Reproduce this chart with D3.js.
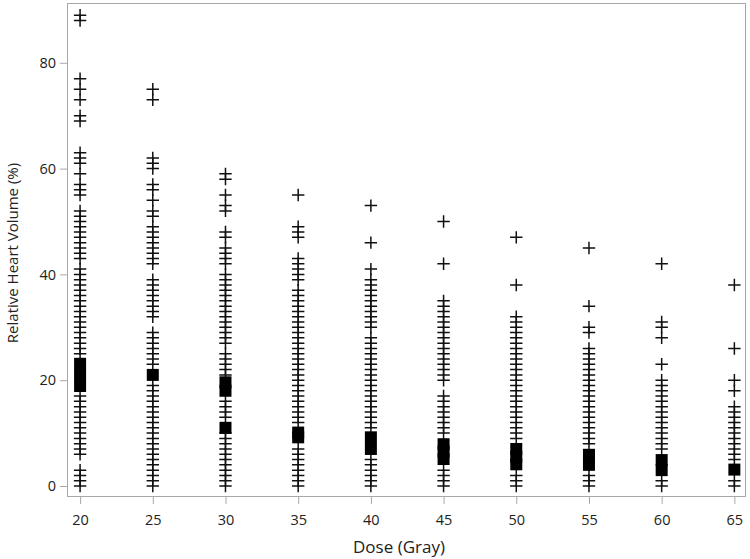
<!DOCTYPE html>
<html>
<head>
<meta charset="utf-8">
<script src="https://cdn.jsdelivr.net/npm/d3@7"></script>
<style>
  body { margin: 0; background: #fff; }
  svg text { font-family: "Open Sans", sans-serif; fill: #222; }
</style>
</head>
<body>
<div id="chart-area"></div>
<script>
(function () {
  // Dose levels (Gray)
  const doses = [20, 25, 30, 35, 40, 45, 50, 55, 60, 65];

  // Relative heart volume (%) per patient
  const vol20 = [89, 88, 77, 75, 73, 70, 69, 63, 62, 61, 59, 57, 56, 55, 52, 51, 50, 49, 48, 47, 46, 45, 44, 43, 41, 40, 39, 38, 37, 36, 35, 34, 33, 32, 31, 30, 29, 28, 27, 26, 25, 17, 16, 15, 14, 13, 12, 11, 10, 9, 8, 7, 6, 3, 2, 1, 0];
  const vol25 = [75, 73, 62, 61, 60, 57, 56, 54, 52, 51, 49, 48, 47, 46, 45, 44, 43, 42, 39, 38, 37, 36, 35, 34, 33, 32, 29, 28, 27, 26, 25, 24, 23, 19, 18, 17, 16, 15, 14, 13, 12, 11, 10, 9, 8, 7, 6, 5, 4, 3, 2, 1, 0];
  const vol30 = [59, 58, 55, 53, 52, 48, 47, 45, 44, 43, 42, 40, 39, 38, 37, 36, 35, 34, 33, 32, 31, 30, 29, 28, 27, 25, 24, 23, 22, 21, 16, 15, 14, 13, 10, 9, 8, 7, 6, 5, 4, 3, 2, 1, 0];
  const vol35 = [55, 49, 48, 47, 43, 42, 41, 40, 39, 37, 36, 35, 34, 33, 32, 31, 30, 29, 28, 27, 26, 25, 24, 23, 22, 21, 20, 19, 18, 17, 16, 15, 14, 13, 12, 7, 6, 5, 4, 3, 2, 1, 0];
  const vol40 = [53, 46, 41, 39, 38, 37, 36, 35, 34, 33, 32, 31, 30, 28, 27, 26, 25, 24, 23, 22, 21, 20, 19, 18, 17, 16, 15, 14, 13, 12, 11, 5, 4, 3, 2, 1, 0];
  const vol45 = [50, 42, 35, 34, 33, 32, 31, 30, 29, 28, 27, 26, 25, 24, 23, 22, 21, 20, 17, 16, 15, 14, 13, 12, 11, 10, 3, 2, 1, 0];
  const vol50 = [47, 38, 32, 31, 30, 29, 28, 27, 26, 25, 24, 23, 22, 21, 20, 19, 18, 17, 16, 15, 14, 13, 12, 11, 10, 9, 2, 1, 0];
  const vol55 = [45, 34, 30, 29, 26, 25, 24, 23, 22, 21, 20, 19, 18, 17, 16, 15, 14, 13, 12, 11, 10, 9, 8, 2, 1, 0];
  const vol60 = [42, 31, 30, 28, 23, 20, 19, 18, 17, 16, 15, 14, 13, 12, 11, 10, 9, 8, 7, 1, 0];
  const vol65 = [38, 26, 20, 18, 15, 14, 13, 12, 11, 10, 9, 8, 7, 6, 5, 1, 0];
  const volumes = [vol20, vol25, vol30, vol35, vol40, vol45, vol50, vol55, vol60, vol65];

  // Filled square markers (summary values) per dose
  const squares = [
    [23.1, 21, 18.9],
    [21],
    [19.6, 18, 11],
    [10.1, 9.2],
    [9.2, 7],
    [7.9, 6.5, 5.1],
    [7, 5.5, 4.1],
    [5.9, 4],
    [4.9, 3],
    [3.1]
  ];

  const yTicks = [0, 20, 40, 60, 80];

  // Layout
  const W = 750, H = 559;
  const frame = { left: 67, right: 746, top: 3, bottom: 497 };

  const svg = d3.select("#chart-area")
    .append("svg")
    .attr("width", W)
    .attr("height", H);

  const x = d3.scaleLinear().domain([19.1, 65.8]).range([frame.left, frame.right]);
  const y = d3.scaleLinear().domain([-2.08, 91.3]).range([frame.bottom, frame.top]);

  // Frame
  svg.append("rect")
    .attr("x", frame.left + 0.5)
    .attr("y", frame.top + 0.5)
    .attr("width", frame.right - frame.left - 1)
    .attr("height", frame.bottom - frame.top - 1)
    .attr("fill", "none")
    .attr("stroke", "#a8a8a8")
    .attr("stroke-width", 1);

  // Axes
  const xAxis = svg.append("g")
    .attr("transform", `translate(0,${frame.bottom})`)
    .call(d3.axisBottom(x).tickValues(doses).tickSize(7).tickPadding(11));
  const yAxis = svg.append("g")
    .attr("transform", `translate(${frame.left},0)`)
    .call(d3.axisLeft(y).tickValues(yTicks).tickSize(7).tickPadding(4));

  [xAxis, yAxis].forEach((g) => {
    g.select(".domain").remove();
    g.selectAll(".tick line").attr("stroke", "#a8a8a8");
    g.selectAll(".tick text")
      .attr("font-size", 14.5)
      .style("font-family", "'Open Sans', sans-serif")
      .attr("fill", "#222");
  });

  // Axis titles
  svg.append("text")
    .attr("x", 399)
    .attr("y", 553)
    .attr("text-anchor", "middle")
    .attr("font-size", 17)
    .text("Dose (Gray)");

  svg.append("text")
    .attr("transform", `translate(18,253) rotate(-90)`)
    .attr("text-anchor", "middle")
    .attr("font-size", 15)
    .text("Relative Heart Volume (%)");

  // Plus markers
  const points = [];
  doses.forEach((d, i) => volumes[i].forEach((v) => points.push({ dose: d, v: v })));

  const arm = 6.2;
  svg.append("g")
    .selectAll("path")
    .data(points)
    .enter()
    .append("path")
    .attr("transform", (d) => `translate(${x(d.dose)},${y(d.v)})`)
    .attr("d", `M${-arm},0H${arm}M0,${-arm}V${arm}`)
    .attr("fill", "none")
    .attr("stroke", "#111")
    .attr("stroke-width", 1.5);

  // Square markers
  const boxes = [];
  doses.forEach((d, i) => squares[i].forEach((v) => boxes.push({ dose: d, v: v })));

  const side = 12;
  svg.append("g")
    .selectAll("rect")
    .data(boxes)
    .enter()
    .append("rect")
    .attr("x", (d) => x(d.dose) - side / 2)
    .attr("y", (d) => y(d.v) - side / 2)
    .attr("width", side)
    .attr("height", side)
    .attr("fill", "#000");
})();
</script>
</body>
</html>
